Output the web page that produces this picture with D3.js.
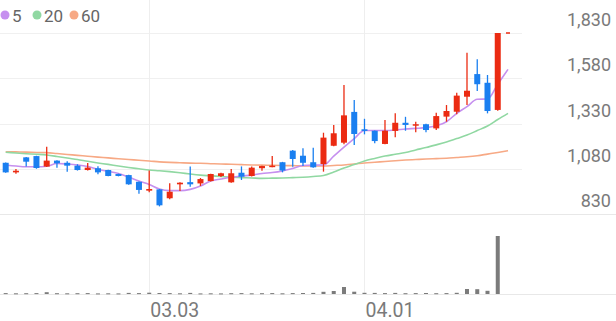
<!DOCTYPE html>
<html>
<head>
<meta charset="utf-8">
<script src="https://cdn.jsdelivr.net/npm/d3@7"></script>
<style>
  html, body { margin: 0; padding: 0; background: #fff; }
  svg { display: block; font-family: Roboto, "Noto Sans", sans-serif; }
</style>
</head>
<body>
<svg id="chart" width="616" height="321"></svg>
<script>

// trading days (last one has only the moving-average points)
const DATES = ['2021-02-08','2021-02-09','2021-02-10','2021-02-15','2021-02-16','2021-02-17','2021-02-18','2021-02-19',
  '2021-02-22','2021-02-23','2021-02-24','2021-02-25','2021-02-26','2021-03-02','2021-03-03','2021-03-04','2021-03-05',
  '2021-03-08','2021-03-09','2021-03-10','2021-03-11','2021-03-12','2021-03-15','2021-03-16','2021-03-17','2021-03-18',
  '2021-03-19','2021-03-22','2021-03-23','2021-03-24','2021-03-25','2021-03-26','2021-03-29','2021-03-30','2021-03-31',
  '2021-04-01','2021-04-02','2021-04-05','2021-04-06','2021-04-07','2021-04-08','2021-04-09','2021-04-12','2021-04-13',
  '2021-04-14','2021-04-15','2021-04-16','2021-04-19','2021-04-20','2021-04-21'];

const OPEN  = [1113,1060,1143,1150,1092,1125,1113,1097,1073,1083,1073,1051,1045,1008,959,966,917,994,1006,999,
  1012,1040,1005,1058,1040,1083,1090,1116,1180,1152,1116,1106,1207,1224,1394,1298,1290,1217,1289,1334,
  1318,1326,1303,1368,1395,1478,1603,1555,1405];
const HIGH  = [1115,1078,1145,1152,1202,1127,1122,1105,1112,1094,1075,1053,1047,1010,1071,968,1000,1005,1092,1029,
  1053,1058,1078,1093,1092,1097,1150,1118,1183,1193,1196,1279,1322,1543,1460,1356,1292,1350,1386,1367,
  1340,1328,1390,1432,1500,1721,1685,1598,1830];
const LOW   = [1058,1052,1093,1080,1090,1085,1064,1070,1071,1049,1038,1038,992,942,950,872,912,957,981,985,
  1010,1035,1002,1018,1037,1069,1088,1060,1091,1095,1085,1064,1204,1215,1211,1270,1221,1215,1254,1290,
  1281,1281,1294,1340,1381,1432,1510,1386,1400];
const CLOSE = [1060,1069,1119,1084,1125,1110,1097,1073,1086,1060,1040,1040,994,963,968,878,953,1003,994,1023,
  1051,1055,1055,1036,1086,1095,1097,1070,1134,1113,1088,1252,1276,1375,1272,1289,1233,1290,1334,1322,
  1326,1294,1371,1399,1484,1511,1547,1399,1830];
const VOLUME = [90,70,80,90,180,80,70,80,90,60,70,60,110,90,130,100,90,70,110,60,
  70,60,80,90,70,80,90,70,90,100,110,220,300,700,230,120,110,90,110,80,
  90,100,80,90,120,500,480,320,5800];

const MA5  = [1101,1095,1091,1091,1094,1109,1106,1101,1092,1076,1065,1054,1034,1012,993,968,959,959,966,985,
  1012,1023,1033,1040,1045,1054,1059,1068,1082,1098,1101,1101,1150,1200,1247,1291,1291,1291,1294,1300,
  1303,1307,1318,1340,1386,1423,1464,1465,1547,1629];
const MA20 = [1171,1167,1163,1160,1156,1148,1139,1131,1121,1112,1104,1095,1087,1080,1073,1069,1064,1058,1051,1045,
  1041,1037,1033,1031,1029,1027,1028,1029,1031,1033,1037,1043,1062,1084,1103,1123,1137,1150,1160,1170,
  1184,1197,1212,1228,1247,1266,1291,1316,1352,1386];
const MA60 = [1174,1173,1172,1170,1169,1164,1159,1154,1149,1144,1140,1135,1131,1127,1123,1118,1115,1113,1111,1110,
  1108,1106,1105,1103,1101,1100,1099,1098,1097,1096,1096,1095,1098,1101,1106,1112,1116,1120,1124,1128,
  1131,1134,1136,1138,1142,1146,1152,1161,1170,1180];

const PRICE_TICKS = [830, 1080, 1330, 1580, 1830];
const DATE_TICKS = ['2021-03-03', '2021-04-01'];
const LEGEND = [{name: '5', color: '#c690ef'}, {name: '20', color: '#90d8a2'}, {name: '60', color: '#f7a985'}];

const UP = '#eb2b12', DOWN = '#1a7ff0';

let svg = d3.select('#chart');

let x = d3.scalePoint().domain(DATES).range([5.7, 508]);
let y = d3.scaleLinear().domain([830, 1830]).range([214, 33]);
let yVol = d3.scaleLinear().domain([0, d3.max(VOLUME)]).range([294, 236]);

let candles = CLOSE.map((c, i) => ({date: DATES[i], o: OPEN[i], h: HIGH[i], l: LOW[i], c: c, v: VOLUME[i]}));

// grid
svg.append('g').selectAll('line').data(PRICE_TICKS.slice(1)).enter().append('line')
  .attr('x1', 0).attr('x2', 522)
  .attr('y1', d => Math.round(y(d)) + 0.5).attr('y2', d => Math.round(y(d)) + 0.5)
  .attr('stroke', '#f0f0f0');
svg.append('g').selectAll('line').data(DATE_TICKS).enter().append('line')
  .attr('x1', d => Math.round(x(d)) + 0.5).attr('x2', d => Math.round(x(d)) + 0.5)
  .attr('y1', 0).attr('y2', 294)
  .attr('stroke', '#eeeeee');
[y(830), 294].forEach(yy => {
  svg.append('line').attr('x1', 0).attr('x2', 616)
    .attr('y1', Math.round(yy) + 0.5).attr('y2', Math.round(yy) + 0.5)
    .attr('stroke', '#e8e8e8');
});

// price labels
svg.append('g').selectAll('text').data(PRICE_TICKS).enter().append('text')
  .attr('x', 611).attr('y', d => y(d) - 7)
  .attr('text-anchor', 'end')
  .attr('font-size', 18).attr('fill', '#7a7a7a')
  .text(d => d3.format(',')(d));

// date labels
svg.append('g').selectAll('text').data(DATE_TICKS).enter().append('text')
  .attr('x', d => x(d) + 1).attr('y', 317)
  .attr('font-size', 19.5).attr('fill', '#7a7a7a')
  .text(d => d.slice(5).replace('-', '.'));

// volume
svg.append('g').selectAll('rect').data(candles).enter().append('rect')
  .attr('x', d => x(d.date) - 2).attr('width', 4)
  .attr('y', d => yVol(d.v)).attr('height', d => Math.max(1, 294 - yVol(d.v)))
  .attr('fill', '#7b7b7b');

// moving averages
const lineGen = d3.line().x((d, i) => x(DATES[i])).y(d => y(d)).curve(d3.curveMonotoneX);
[[MA60, LEGEND[2].color], [MA20, LEGEND[1].color], [MA5, LEGEND[0].color]].forEach(([s, col]) => {
  svg.append('path').attr('d', lineGen(s)).attr('fill', 'none')
    .attr('stroke', col).attr('stroke-width', 1.6);
});

// candles
let cg = svg.append('g').selectAll('g').data(candles).enter().append('g');
cg.append('line')
  .attr('x1', d => x(d.date)).attr('x2', d => x(d.date))
  .attr('y1', d => y(d.h)).attr('y2', d => y(d.l))
  .attr('stroke', d => d.c >= d.o ? UP : DOWN).attr('stroke-width', 1.3);
cg.append('rect')
  .attr('x', d => x(d.date) - 3).attr('width', 6)
  .attr('y', d => y(Math.max(d.o, d.c)))
  .attr('height', d => Math.max(1.5, Math.abs(y(d.o) - y(d.c))))
  .attr('fill', d => d.c >= d.o ? UP : DOWN);

// current price marker
let last = CLOSE[CLOSE.length - 1];
svg.append('line')
  .attr('x1', x(DATES[DATES.length - 1]) - 2).attr('x2', x(DATES[DATES.length - 1]) + 2)
  .attr('y1', y(last)).attr('y2', y(last))
  .attr('stroke', UP).attr('stroke-width', 1.5);

// legend
let lg = svg.append('g').selectAll('g').data(LEGEND).enter().append('g')
  .attr('transform', (d, i) => 'translate(' + [5, 37, 74][i] + ',15)');
lg.append('circle').attr('r', 4.5).attr('fill', d => d.color);
lg.append('text').attr('x', 7).attr('y', 6.5)
  .attr('font-size', 17).attr('fill', '#666')
  .text(d => d.name);

</script>
</body>
</html>
